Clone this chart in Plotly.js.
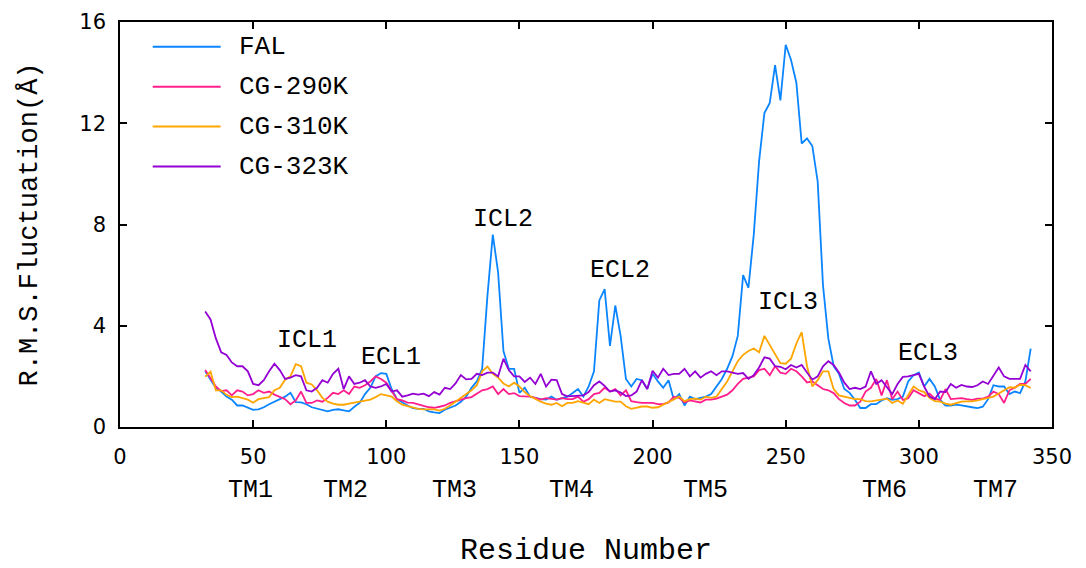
<!DOCTYPE html>
<html><head><meta charset="utf-8">
<script src="https://cdn.plot.ly/plotly-3.0.1.min.js"></script>
<style>html,body{margin:0;padding:0;background:#fff}#chart{width:1086px;height:568px}</style>
</head><body><div id="chart"></div>
<script>
const residues = [
32,34,36,38,40,42,44,46,48,50,
52,54,56,58,60,62,64,66,68,70,
72,74,76,78,80,82,84,86,88,90,
92,94,96,98,100,102,104,106,108,110,
112,114,116,118,120,122,124,126,128,130,
132,134,136,138,140,142,144,146,148,150,
152,154,156,158,160,162,164,166,168,170,
172,174,176,178,180,182,184,186,188,190,
192,194,196,198,200,202,204,206,208,210,
212,214,216,218,220,222,224,226,228,230,
232,234,236,238,240,242,244,246,248,250,
252,254,256,258,260,262,264,266,268,270,
272,274,276,278,280,282,284,286,288,290,
292,294,296,298,300,302,304,306,308,310,
312,314,316,318,320,322,324,326,328,330,
332,334,336,338,340,342];

const fal = [
2.2,1.85,1.55,1.4,1.2,1.08,0.85,0.85,0.75,0.68,
0.7,0.78,0.9,1.0,1.08,1.2,1.35,0.98,0.97,0.9,
0.78,0.72,0.68,0.62,0.68,0.7,0.66,0.62,0.8,0.95,
1.3,1.55,2.0,2.13,2.1,1.5,1.1,0.96,0.85,0.75,
0.72,0.72,0.62,0.58,0.55,0.68,0.75,0.85,1.0,1.2,
1.55,1.8,2.3,5.2,7.6,6.1,3.0,2.3,2.3,1.35,
1.55,1.2,1.15,1.1,1.08,1.2,1.08,1.15,1.2,1.34,
1.5,1.2,1.6,2.2,5.0,5.45,3.2,4.8,3.6,1.9,
1.6,1.9,1.85,1.5,2.1,1.8,1.55,1.85,1.08,1.3,
0.85,1.2,1.1,1.15,1.2,1.3,1.6,1.9,2.3,2.8,
3.6,6.0,5.5,7.6,10.5,12.4,12.8,14.3,12.9,15.1,
14.5,13.6,11.2,11.4,11.1,9.7,5.6,3.5,2.4,2.1,
1.5,1.35,1.08,0.75,0.75,0.9,0.9,1.05,1.14,1.07,
1.1,1.2,1.8,2.05,2.15,1.6,1.9,1.6,1.07,0.85,
0.85,0.88,0.85,0.8,0.78,0.75,0.8,1.1,1.65,1.6,
1.6,1.3,1.4,1.34,1.8,3.1];

const cg290 = [
2.25,1.95,1.6,1.42,1.45,1.25,1.45,1.4,1.25,1.3,
1.45,1.35,1.4,1.28,1.2,1.1,0.9,1.05,1.4,0.95,
0.95,1.05,1.0,1.15,1.35,1.3,1.45,1.3,1.6,1.55,
1.65,1.8,2.0,1.9,1.75,1.4,1.1,1.05,0.96,0.95,
0.88,0.83,0.78,0.76,0.8,0.85,0.95,1.02,1.08,1.14,
1.18,1.3,1.45,1.5,1.6,1.3,1.5,1.3,1.34,1.22,
1.21,1.2,1.15,1.08,1.14,1.1,1.08,1.14,1.1,1.1,
1.2,1.0,1.1,1.3,1.35,1.55,1.4,1.5,1.25,1.45,
1.02,0.98,0.95,0.95,0.95,0.9,0.9,0.97,1.2,1.15,
0.97,1.05,1.0,0.97,1.08,1.08,1.12,1.2,1.28,1.45,
1.7,1.9,1.95,2.0,2.25,2.3,2.05,2.4,2.15,2.1,
2.3,2.2,2.0,1.76,1.8,1.65,1.5,1.45,1.34,1.1,
0.95,0.85,0.85,1.0,1.4,1.55,1.9,1.25,1.85,1.1,
1.4,1.07,1.14,1.45,1.34,1.22,1.32,1.12,1.07,1.5,
1.1,1.12,1.14,1.1,1.07,1.12,1.12,1.2,1.4,1.3,
0.95,1.45,1.55,1.7,1.7,1.9];

const cg310 = [
1.99,2.19,1.45,1.45,1.27,1.18,1.2,1.15,1.08,0.96,
1.1,1.14,1.18,1.45,1.55,1.87,2.0,2.48,2.4,1.75,
1.68,1.45,1.15,1.0,0.92,0.88,0.88,0.92,0.96,0.98,
1.02,1.08,1.18,1.3,1.25,1.2,1.02,0.88,0.82,0.76,
0.72,0.7,0.7,0.7,0.65,0.72,0.85,1.0,1.15,1.28,
1.45,1.65,2.2,2.39,2.1,1.95,1.72,1.6,1.75,1.6,
1.38,1.22,1.1,1.0,0.92,0.88,0.95,0.82,0.95,0.95,
1.02,0.95,0.9,1.08,0.95,1.1,1.05,1.0,1.0,0.82,
0.72,0.78,0.81,0.81,0.76,0.78,0.88,0.98,1.08,1.2,
1.02,1.1,1.12,1.08,1.2,1.15,1.2,1.5,1.8,2.2,
2.6,2.85,3.0,3.1,2.95,3.6,3.25,2.85,2.52,2.5,
2.7,3.3,3.75,2.4,1.6,1.85,2.2,2.2,1.5,1.25,
1.2,1.15,1.1,1.1,1.02,1.01,1.05,1.1,1.12,0.95,
1.05,0.92,1.25,1.6,1.45,1.38,1.15,1.02,1.0,0.92,
0.88,0.94,1.0,1.01,1.01,1.05,1.1,1.15,1.2,1.32,
1.45,1.57,1.55,1.67,1.65,1.54];

const cg323 = [
4.56,4.25,3.5,2.95,2.85,2.55,2.4,2.4,2.2,1.7,
1.65,1.85,2.2,2.5,2.25,1.9,1.95,2.05,2.0,1.45,
1.4,1.55,1.85,1.75,2.1,2.3,1.5,2.0,1.7,1.75,
1.85,1.6,1.55,1.6,1.7,1.4,1.45,1.2,1.25,1.32,
1.28,1.32,1.22,1.38,1.28,1.55,1.5,1.72,2.05,1.88,
1.9,2.1,2.05,2.15,2.15,2.0,2.7,2.25,2.0,2.0,
1.78,1.95,1.7,2.1,1.6,1.87,1.85,1.3,1.21,1.22,
1.25,1.25,1.38,1.65,1.8,1.62,1.4,1.45,1.36,1.22,
1.25,1.4,1.85,1.5,2.22,1.95,2.3,2.05,2.1,2.1,
2.3,2.0,2.2,1.95,2.1,2.2,2.05,2.2,2.2,2.15,
2.1,2.13,1.9,2.05,2.35,2.75,2.7,2.4,2.38,2.28,
2.45,2.35,2.45,2.15,1.87,2.0,2.4,2.6,2.45,2.15,
1.75,1.5,1.55,1.5,1.6,2.2,1.7,1.85,1.55,1.3,
1.7,1.98,2.0,2.05,2.1,1.6,1.2,1.1,1.4,1.38,
1.7,1.55,1.66,1.6,1.58,1.65,1.8,1.7,2.05,2.35,
2.0,1.9,1.9,1.9,2.45,2.2];

const seriesNames = ['FAL', 'CG-290K', 'CG-310K', 'CG-323K'];
const seriesValues = [fal, cg290, cg310, cg323];
const seriesColors = ['#0a85ff', '#ff1e8c', '#ffa500', '#9400d3'];

const xTicks = [0, 50, 100, 150, 200, 250, 300, 350];
const yTicks = [0, 4, 8, 12, 16];

const tmLabels = ['TM1', 'TM2', 'TM3', 'TM4', 'TM5', 'TM6', 'TM7'];
const tmResidues = [49, 84.5, 125.8, 169.5, 219.7, 287, 328.6];

const loopLabels = ['ICL1', 'ECL1', 'ICL2', 'ECL2', 'ICL3', 'ECL3'];
const loopResidues = [70.2, 101.8, 144, 187.8, 250.8, 303.6];
const loopHeights = [3.43, 2.74, 8.18, 6.17, 4.92, 2.92];

const MONO = 'Liberation Mono, Courier New, monospace';
const SANS = 'DejaVu Sans, sans-serif';

const traces = seriesNames.map((n, i) => ({
  type: 'scatter', mode: 'lines', name: n,
  x: residues, y: seriesValues[i],
  line: {color: seriesColors[i], width: 1.8},
  showlegend: false
}));

const annotations = [];
tmLabels.forEach((t, i) => annotations.push({
  text: t, x: tmResidues[i], xref: 'x', y: -0.156, yref: 'paper',
  showarrow: false, xanchor: 'center', yanchor: 'middle',
  font: {family: MONO, size: 25, color: '#000'}
}));
loopLabels.forEach((t, i) => annotations.push({
  text: t, x: loopResidues[i], xref: 'x', y: loopHeights[i], yref: 'y',
  showarrow: false, xanchor: 'center', yanchor: 'middle',
  font: {family: MONO, size: 25, color: '#000'}
}));

// legend drawn as line samples plus labels
const legendRowY = [0.939, 0.8404, 0.7417, 0.643];
const shapes = [];
seriesNames.forEach((n, i) => {
  shapes.push({type: 'line', xref: 'paper', yref: 'paper',
    x0: 0.0351, x1: 0.108, y0: legendRowY[i], y1: legendRowY[i],
    line: {color: seriesColors[i], width: 2}});
  annotations.push({text: n, xref: 'paper', yref: 'paper',
    x: 0.1259, y: legendRowY[i], xanchor: 'left', yanchor: 'middle',
    showarrow: false, font: {family: MONO, size: 26, color: '#000'}});
});

const axisCommon = {
  showline: true, linecolor: '#000', linewidth: 1.5, mirror: 'allticks',
  ticks: 'inside', ticklen: 7, tickwidth: 1.5, tickcolor: '#000',
  showgrid: false, zeroline: false,
  tickfont: {family: SANS, size: 21, color: '#000'}
};

const layout = {
  width: 1086, height: 568,
  margin: {l: 120, r: 34, t: 22, b: 141},
  paper_bgcolor: '#fff', plot_bgcolor: '#fff',
  showlegend: false,
  xaxis: Object.assign({}, axisCommon, {
    range: [0, 350], tickvals: xTicks, ticktext: xTicks.map(String),
    ticklabelstandoff: 10,
    title: {text: 'Residue Number', font: {family: MONO, size: 30, color: '#000'}, standoff: 78}
  }),
  yaxis: Object.assign({}, axisCommon, {
    range: [0, 16], tickvals: yTicks, ticktext: yTicks.map(String),
    ticklabelstandoff: 8,
    title: {text: 'R.M.S.Fluctuation(Å)', font: {family: MONO, size: 27, color: '#000'}, standoff: 34}
  }),
  annotations: annotations,
  shapes: shapes
};

Plotly.newPlot('chart', traces, layout, {displayModeBar: false, responsive: false});
</script>
</body></html>
